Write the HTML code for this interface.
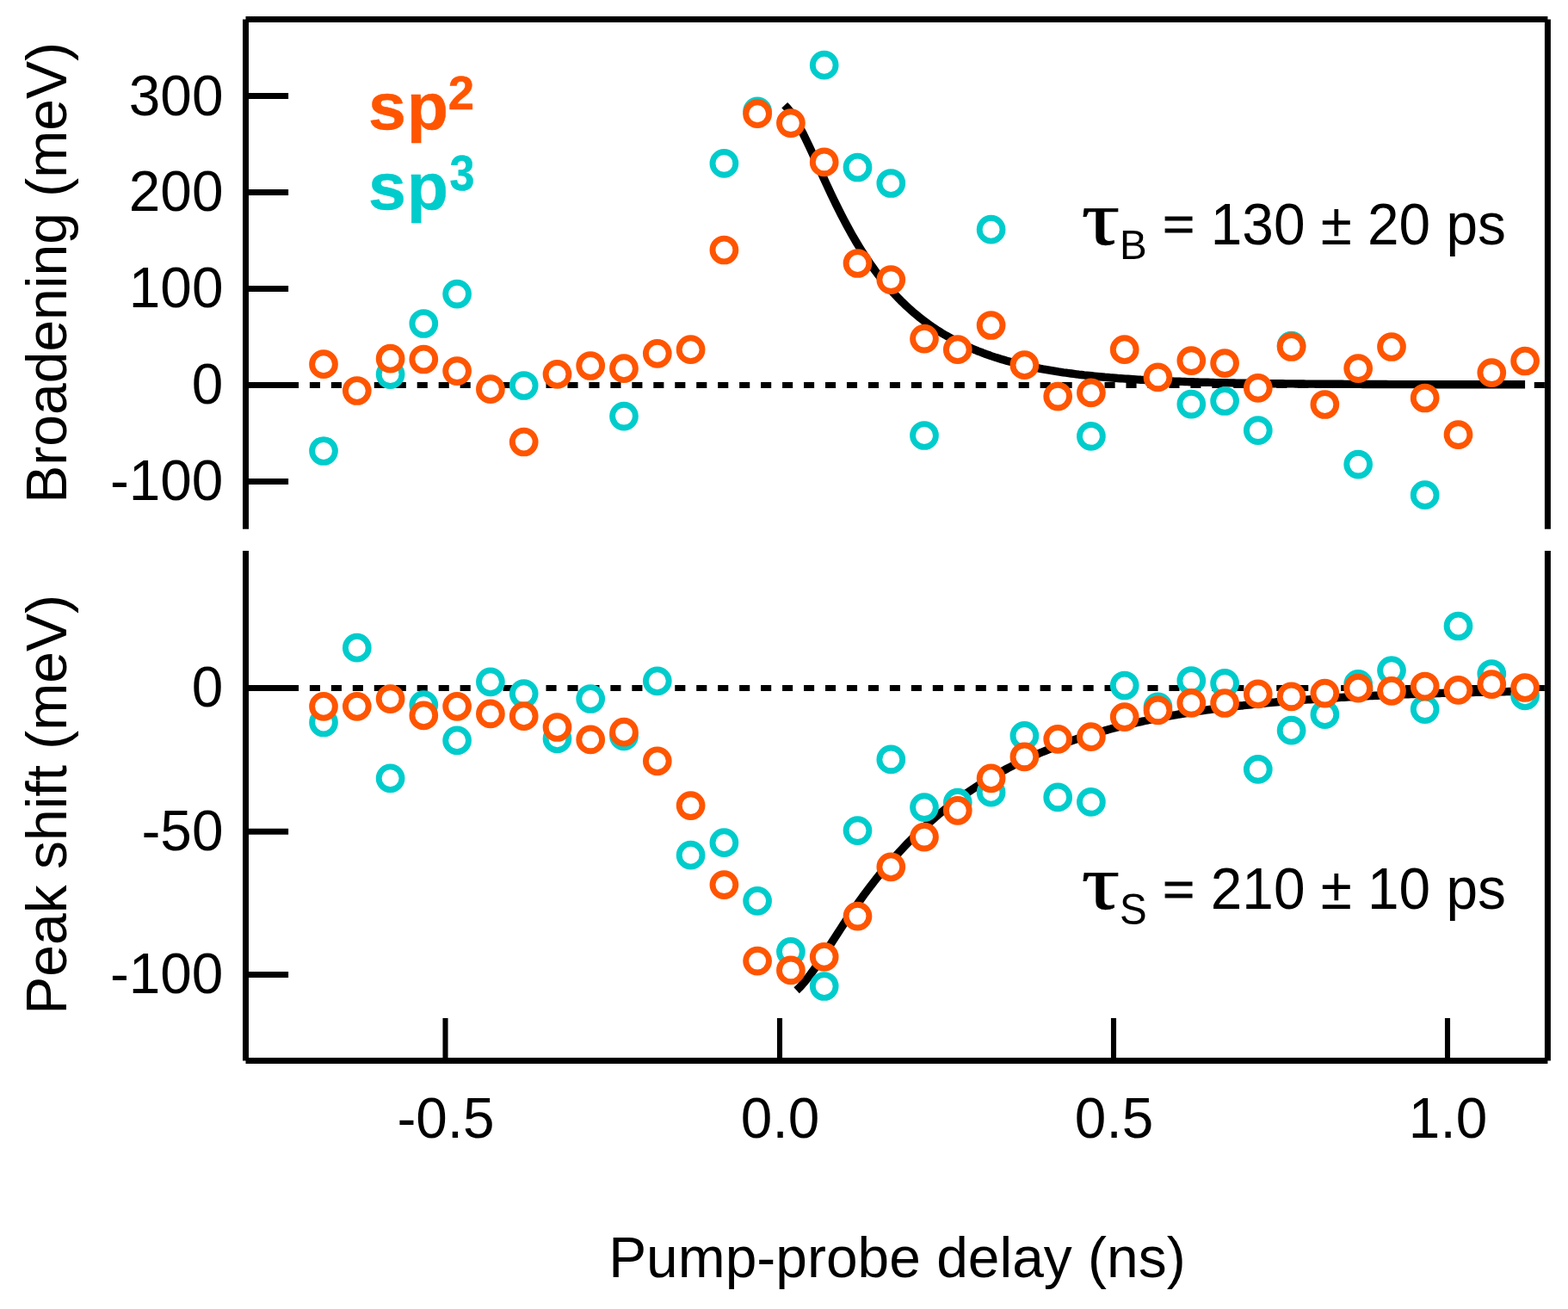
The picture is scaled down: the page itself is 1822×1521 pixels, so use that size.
<!DOCTYPE html>
<html lang="en">
<head>
<meta charset="utf-8">
<title>Pump-probe delay: broadening and peak shift</title>
<style>
html,body{margin:0;padding:0;background:#fff;}
body{width:1822px;height:1521px;overflow:hidden;}
svg{display:block;}
</style>
</head>
<body>
<svg width="1822" height="1521" viewBox="0 0 1822 1521" role="img" aria-label="Broadening and peak shift versus pump-probe delay">
<rect width="1822" height="1521" fill="#fff"/>
<g stroke="#000" stroke-width="7" stroke-dasharray="12.1 12.863" fill="none">
<line x1="285.0" y1="447.45" x2="1798.4" y2="447.45"/>
<line x1="285.0" y1="799.5" x2="1798.4" y2="799.5"/>
</g>
<g fill="none" stroke="#000" stroke-width="9.4" stroke-linejoin="round">
<path d="M911.7,122.2 L914.7,125.3 L917.7,129.0 L920.7,133.3 L923.7,138.0 L926.7,143.2 L929.7,148.7 L932.7,154.4 L935.7,160.5 L938.7,166.7 L941.7,173.1 L944.7,179.6 L947.7,186.2 L950.7,192.8 L953.7,199.4 L956.7,206.0 L959.7,212.6 L962.7,219.0 L965.7,225.4 L968.7,231.7 L971.7,237.9 L974.7,243.9 L977.7,249.9 L980.7,255.6 L983.7,261.3 L986.7,266.8 L989.7,272.2 L992.7,277.4 L995.7,282.5 L998.7,287.4 L1001.7,292.2 L1004.7,296.8 L1007.7,301.4 L1010.7,305.8 L1013.7,310.0 L1016.7,314.2 L1019.7,318.2 L1022.7,322.1 L1025.7,325.8 L1028.7,329.5 L1031.7,333.1 L1034.7,336.5 L1037.7,339.8 L1040.7,343.1 L1043.7,346.2 L1046.7,349.3 L1049.7,352.2 L1052.7,355.1 L1055.7,357.9 L1058.7,360.6 L1061.7,363.2 L1064.7,365.7 L1067.7,368.2 L1070.7,370.5 L1073.7,372.9 L1076.7,375.1 L1079.7,377.3 L1082.7,379.4 L1085.7,381.4 L1088.7,383.4 L1091.7,385.3 L1094.7,387.2 L1097.7,389.0 L1100.7,390.7 L1103.7,392.4 L1106.7,394.1 L1109.7,395.7 L1112.7,397.2 L1115.7,398.7 L1118.7,400.2 L1121.7,401.6 L1124.7,403.0 L1127.7,404.3 L1130.7,405.6 L1133.7,406.8 L1136.7,408.1 L1139.7,409.2 L1142.7,410.4 L1145.7,411.5 L1148.7,412.5 L1151.7,413.6 L1154.7,414.6 L1157.7,415.6 L1160.7,416.5 L1163.7,417.4 L1166.7,418.3 L1169.7,419.2 L1172.7,420.0 L1175.7,420.8 L1178.7,421.6 L1181.7,422.4 L1184.7,423.1 L1187.7,423.8 L1190.7,424.5 L1193.7,425.2 L1196.7,425.9 L1199.7,426.5 L1202.7,427.1 L1205.7,427.7 L1208.7,428.3 L1211.7,428.9 L1214.7,429.4 L1217.7,429.9 L1220.7,430.4 L1223.7,430.9 L1226.7,431.4 L1229.7,431.9 L1232.7,432.3 L1235.7,432.8 L1238.7,433.2 L1241.7,433.6 L1244.7,434.0 L1247.7,434.4 L1250.7,434.8 L1253.7,435.2 L1256.7,435.5 L1259.7,435.9 L1262.7,436.2 L1265.7,436.5 L1268.7,436.8 L1271.7,437.1 L1274.7,437.4 L1277.7,437.7 L1280.7,438.0 L1283.7,438.3 L1286.7,438.5 L1289.7,438.8 L1292.7,439.0 L1295.7,439.2 L1298.7,439.5 L1301.7,439.7 L1304.7,439.9 L1307.7,440.1 L1310.7,440.3 L1313.7,440.5 L1316.7,440.7 L1319.7,440.9 L1322.7,441.1 L1325.7,441.3 L1328.7,441.4 L1331.7,441.6 L1334.7,441.8 L1337.7,441.9 L1340.7,442.1 L1343.7,442.2 L1346.7,442.3 L1349.7,442.5 L1352.7,442.6 L1355.7,442.7 L1358.7,442.9 L1361.7,443.0 L1364.7,443.1 L1367.7,443.2 L1370.7,443.3 L1373.7,443.4 L1376.7,443.5 L1379.7,443.6 L1382.7,443.7 L1385.7,443.8 L1388.7,443.9 L1391.7,444.0 L1394.7,444.1 L1397.7,444.2 L1400.7,444.3 L1403.7,444.3 L1406.7,444.4 L1409.7,444.5 L1412.7,444.6 L1415.7,444.6 L1418.7,444.7 L1421.7,444.8 L1424.7,444.8 L1427.7,444.9 L1430.7,444.9 L1433.7,445.0 L1436.7,445.1 L1439.7,445.1 L1442.7,445.2 L1445.7,445.2 L1448.7,445.3 L1451.7,445.3 L1454.7,445.4 L1457.7,445.4 L1460.7,445.4 L1463.7,445.5 L1466.7,445.5 L1469.7,445.6 L1472.7,445.6 L1475.7,445.6 L1478.7,445.7 L1481.7,445.7 L1484.7,445.8 L1487.7,445.8 L1490.7,445.8 L1493.7,445.9 L1496.7,445.9 L1499.7,445.9 L1502.7,445.9 L1505.7,446.0 L1508.7,446.0 L1511.7,446.0 L1514.7,446.0 L1517.7,446.1 L1520.7,446.1 L1523.7,446.1 L1526.7,446.1 L1529.7,446.2 L1532.7,446.2 L1535.7,446.2 L1538.7,446.2 L1541.7,446.2 L1544.7,446.3 L1547.7,446.3 L1550.7,446.3 L1553.7,446.3 L1556.7,446.3 L1559.7,446.3 L1562.7,446.4 L1565.7,446.4 L1568.7,446.4 L1571.7,446.4 L1574.7,446.4 L1577.7,446.4 L1580.7,446.4 L1583.7,446.5 L1586.7,446.5 L1589.7,446.5 L1592.7,446.5 L1595.7,446.5 L1598.7,446.5 L1601.7,446.5 L1604.7,446.5 L1607.7,446.5 L1610.7,446.5 L1613.7,446.6 L1616.7,446.6 L1619.7,446.6 L1622.7,446.6 L1625.7,446.6 L1628.7,446.6 L1631.7,446.6 L1634.7,446.6 L1637.7,446.6 L1640.7,446.6 L1643.7,446.6 L1646.7,446.6 L1649.7,446.6 L1652.7,446.7 L1655.7,446.7 L1658.7,446.7 L1661.7,446.7 L1664.7,446.7 L1667.7,446.7 L1670.7,446.7 L1673.7,446.7 L1676.7,446.7 L1679.7,446.7 L1682.7,446.7 L1685.7,446.7 L1688.7,446.7 L1691.7,446.7 L1694.7,446.7 L1697.7,446.7 L1700.7,446.7 L1703.7,446.7 L1706.7,446.7 L1709.7,446.7 L1712.7,446.7 L1715.7,446.7 L1718.7,446.8 L1721.7,446.8 L1724.7,446.8 L1727.7,446.8 L1730.7,446.8 L1733.7,446.8 L1736.7,446.8 L1739.7,446.8 L1742.7,446.8 L1745.7,446.8 L1748.7,446.8 L1751.7,446.8 L1754.7,446.8 L1757.7,446.8 L1760.7,446.8 L1763.7,446.8 L1766.7,446.8 L1769.7,446.8 L1772.1,446.8"/>
<path d="M925.6,1150.7 L928.6,1147.9 L931.6,1144.8 L934.6,1141.3 L937.6,1137.6 L940.6,1133.7 L943.6,1129.6 L946.6,1125.4 L949.6,1121.0 L952.6,1116.5 L955.6,1111.9 L958.6,1107.3 L961.6,1102.7 L964.6,1098.0 L967.6,1093.4 L970.6,1088.7 L973.6,1084.1 L976.6,1079.5 L979.6,1074.9 L982.6,1070.4 L985.6,1065.9 L988.6,1061.5 L991.6,1057.2 L994.6,1052.9 L997.6,1048.6 L1000.6,1044.5 L1003.6,1040.3 L1006.6,1036.3 L1009.6,1032.3 L1012.6,1028.4 L1015.6,1024.5 L1018.6,1020.7 L1021.6,1017.0 L1024.6,1013.3 L1027.6,1009.7 L1030.6,1006.2 L1033.6,1002.7 L1036.6,999.2 L1039.6,995.9 L1042.6,992.6 L1045.6,989.3 L1048.6,986.1 L1051.6,982.9 L1054.6,979.8 L1057.6,976.8 L1060.6,973.8 L1063.6,970.9 L1066.6,968.0 L1069.6,965.1 L1072.6,962.3 L1075.6,959.6 L1078.6,956.9 L1081.6,954.2 L1084.6,951.6 L1087.6,949.0 L1090.6,946.5 L1093.6,944.0 L1096.6,941.6 L1099.6,939.2 L1102.6,936.9 L1105.6,934.5 L1108.6,932.3 L1111.6,930.0 L1114.6,927.8 L1117.6,925.7 L1120.6,923.5 L1123.6,921.4 L1126.6,919.4 L1129.6,917.4 L1132.6,915.4 L1135.6,913.4 L1138.6,911.5 L1141.6,909.6 L1144.6,907.8 L1147.6,905.9 L1150.6,904.1 L1153.6,902.4 L1156.6,900.7 L1159.6,899.0 L1162.6,897.3 L1165.6,895.6 L1168.6,894.0 L1171.6,892.4 L1174.6,890.9 L1177.6,889.3 L1180.6,887.8 L1183.6,886.3 L1186.6,884.9 L1189.6,883.4 L1192.6,882.0 L1195.6,880.6 L1198.6,879.3 L1201.6,877.9 L1204.6,876.6 L1207.6,875.3 L1210.6,874.0 L1213.6,872.8 L1216.6,871.6 L1219.6,870.4 L1222.6,869.2 L1225.6,868.0 L1228.6,866.8 L1231.6,865.7 L1234.6,864.6 L1237.6,863.5 L1240.6,862.4 L1243.6,861.4 L1246.6,860.3 L1249.6,859.3 L1252.6,858.3 L1255.6,857.3 L1258.6,856.4 L1261.6,855.4 L1264.6,854.5 L1267.6,853.6 L1270.6,852.7 L1273.6,851.8 L1276.6,850.9 L1279.6,850.0 L1282.6,849.2 L1285.6,848.4 L1288.6,847.5 L1291.6,846.7 L1294.6,846.0 L1297.6,845.2 L1300.6,844.4 L1303.6,843.7 L1306.6,842.9 L1309.6,842.2 L1312.6,841.5 L1315.6,840.8 L1318.6,840.1 L1321.6,839.4 L1324.6,838.8 L1327.6,838.1 L1330.6,837.5 L1333.6,836.8 L1336.6,836.2 L1339.6,835.6 L1342.6,835.0 L1345.6,834.4 L1348.6,833.8 L1351.6,833.3 L1354.6,832.7 L1357.6,832.2 L1360.6,831.6 L1363.6,831.1 L1366.6,830.6 L1369.6,830.0 L1372.6,829.5 L1375.6,829.0 L1378.6,828.5 L1381.6,828.1 L1384.6,827.6 L1387.6,827.1 L1390.6,826.7 L1393.6,826.2 L1396.6,825.8 L1399.6,825.4 L1402.6,824.9 L1405.6,824.5 L1408.6,824.1 L1411.6,823.7 L1414.6,823.3 L1417.6,822.9 L1420.6,822.5 L1423.6,822.1 L1426.6,821.8 L1429.6,821.4 L1432.6,821.0 L1435.6,820.7 L1438.6,820.3 L1441.6,820.0 L1444.6,819.7 L1447.6,819.3 L1450.6,819.0 L1453.6,818.7 L1456.6,818.4 L1459.6,818.1 L1462.6,817.8 L1465.6,817.5 L1468.6,817.2 L1471.6,816.9 L1474.6,816.6 L1477.6,816.3 L1480.6,816.1 L1483.6,815.8 L1486.6,815.5 L1489.6,815.3 L1492.6,815.0 L1495.6,814.8 L1498.6,814.5 L1501.6,814.3 L1504.6,814.0 L1507.6,813.8 L1510.6,813.6 L1513.6,813.3 L1516.6,813.1 L1519.6,812.9 L1522.6,812.7 L1525.6,812.5 L1528.6,812.3 L1531.6,812.1 L1534.6,811.9 L1537.6,811.7 L1540.6,811.5 L1543.6,811.3 L1546.6,811.1 L1549.6,810.9 L1552.6,810.7 L1555.6,810.5 L1558.6,810.4 L1561.6,810.2 L1564.6,810.0 L1567.6,809.9 L1570.6,809.7 L1573.6,809.5 L1576.6,809.4 L1579.6,809.2 L1582.6,809.1 L1585.6,808.9 L1588.6,808.8 L1591.6,808.6 L1594.6,808.5 L1597.6,808.3 L1600.6,808.2 L1603.6,808.1 L1606.6,807.9 L1609.6,807.8 L1612.6,807.7 L1615.6,807.5 L1618.6,807.4 L1621.6,807.3 L1624.6,807.2 L1627.6,807.1 L1630.6,806.9 L1633.6,806.8 L1636.6,806.7 L1639.6,806.6 L1642.6,806.5 L1645.6,806.4 L1648.6,806.3 L1651.6,806.2 L1654.6,806.1 L1657.6,806.0 L1660.6,805.9 L1663.6,805.8 L1666.6,805.7 L1669.6,805.6 L1672.6,805.5 L1675.6,805.4 L1678.6,805.3 L1681.6,805.2 L1684.6,805.2 L1687.6,805.1 L1690.6,805.0 L1693.6,804.9 L1696.6,804.8 L1699.6,804.8 L1702.6,804.7 L1705.6,804.6 L1708.6,804.5 L1711.6,804.5 L1714.6,804.4 L1717.6,804.3 L1720.6,804.2 L1723.6,804.2 L1726.6,804.1 L1729.6,804.0 L1732.6,804.0 L1735.6,803.9 L1738.6,803.8 L1741.6,803.8 L1744.6,803.7 L1747.6,803.7 L1750.6,803.6 L1753.6,803.5 L1756.6,803.5 L1759.6,803.4 L1762.6,803.4 L1765.6,803.3 L1768.6,803.3 L1771.6,803.2 L1772.1,803.2"/>
</g>
<g fill="#fff" stroke="#00CCCC" stroke-width="6.9">
<circle cx="376.0" cy="524.0" r="13.4"/>
<circle cx="453.6" cy="435.1" r="13.4"/>
<circle cx="492.3" cy="376.0" r="13.4"/>
<circle cx="531.1" cy="341.6" r="13.4"/>
<circle cx="608.7" cy="448.0" r="13.4"/>
<circle cx="725.0" cy="483.6" r="13.4"/>
<circle cx="841.4" cy="189.9" r="13.4"/>
<circle cx="880.1" cy="129.3" r="13.4"/>
<circle cx="957.7" cy="75.7" r="13.4"/>
<circle cx="996.5" cy="194.5" r="13.4"/>
<circle cx="1035.3" cy="213.0" r="13.4"/>
<circle cx="1074.0" cy="506.0" r="13.4"/>
<circle cx="1151.6" cy="266.7" r="13.4"/>
<circle cx="1267.9" cy="506.9" r="13.4"/>
<circle cx="1384.3" cy="469.6" r="13.4"/>
<circle cx="1423.1" cy="466.0" r="13.4"/>
<circle cx="1461.8" cy="500.1" r="13.4"/>
<circle cx="1500.6" cy="401.6" r="13.4"/>
<circle cx="1578.2" cy="539.6" r="13.4"/>
<circle cx="1655.7" cy="575.2" r="13.4"/>
</g>
<g fill="#fff" stroke="#FF5500" stroke-width="6.9">
<circle cx="376.0" cy="423.2" r="13.4"/>
<circle cx="414.8" cy="454.0" r="13.4"/>
<circle cx="453.6" cy="416.7" r="13.4"/>
<circle cx="492.3" cy="417.5" r="13.4"/>
<circle cx="531.1" cy="431.1" r="13.4"/>
<circle cx="569.9" cy="452.2" r="13.4"/>
<circle cx="608.7" cy="513.5" r="13.4"/>
<circle cx="647.5" cy="434.8" r="13.4"/>
<circle cx="686.2" cy="425.0" r="13.4"/>
<circle cx="725.0" cy="428.2" r="13.4"/>
<circle cx="763.8" cy="410.8" r="13.4"/>
<circle cx="802.6" cy="406.2" r="13.4"/>
<circle cx="841.4" cy="290.5" r="13.4"/>
<circle cx="880.1" cy="132.2" r="13.4"/>
<circle cx="918.9" cy="143.1" r="13.4"/>
<circle cx="957.7" cy="188.4" r="13.4"/>
<circle cx="996.5" cy="306.0" r="13.4"/>
<circle cx="1035.3" cy="325.1" r="13.4"/>
<circle cx="1074.0" cy="393.6" r="13.4"/>
<circle cx="1112.8" cy="406.2" r="13.4"/>
<circle cx="1151.6" cy="378.0" r="13.4"/>
<circle cx="1190.4" cy="424.2" r="13.4"/>
<circle cx="1229.2" cy="460.6" r="13.4"/>
<circle cx="1267.9" cy="456.4" r="13.4"/>
<circle cx="1306.7" cy="406.2" r="13.4"/>
<circle cx="1345.5" cy="438.4" r="13.4"/>
<circle cx="1384.3" cy="419.1" r="13.4"/>
<circle cx="1423.1" cy="422.1" r="13.4"/>
<circle cx="1461.8" cy="450.9" r="13.4"/>
<circle cx="1500.6" cy="403.0" r="13.4"/>
<circle cx="1539.4" cy="470.0" r="13.4"/>
<circle cx="1578.2" cy="428.1" r="13.4"/>
<circle cx="1617.0" cy="403.0" r="13.4"/>
<circle cx="1655.7" cy="462.5" r="13.4"/>
<circle cx="1694.5" cy="505.1" r="13.4"/>
<circle cx="1733.3" cy="433.1" r="13.4"/>
<circle cx="1772.1" cy="419.5" r="13.4"/>
</g>
<g fill="#fff" stroke="#00CCCC" stroke-width="6.9">
<circle cx="376.0" cy="839.5" r="13.4"/>
<circle cx="414.8" cy="752.7" r="13.4"/>
<circle cx="453.6" cy="904.3" r="13.4"/>
<circle cx="492.3" cy="819.1" r="13.4"/>
<circle cx="531.1" cy="860.3" r="13.4"/>
<circle cx="569.9" cy="792.3" r="13.4"/>
<circle cx="608.7" cy="806.1" r="13.4"/>
<circle cx="647.5" cy="858.3" r="13.4"/>
<circle cx="686.2" cy="812.0" r="13.4"/>
<circle cx="725.0" cy="855.3" r="13.4"/>
<circle cx="763.8" cy="791.3" r="13.4"/>
<circle cx="802.6" cy="993.7" r="13.4"/>
<circle cx="841.4" cy="979.2" r="13.4"/>
<circle cx="880.1" cy="1046.8" r="13.4"/>
<circle cx="918.9" cy="1105.8" r="13.4"/>
<circle cx="957.7" cy="1146.0" r="13.4"/>
<circle cx="996.5" cy="965.1" r="13.4"/>
<circle cx="1035.3" cy="882.4" r="13.4"/>
<circle cx="1074.0" cy="938.1" r="13.4"/>
<circle cx="1112.8" cy="932.6" r="13.4"/>
<circle cx="1151.6" cy="920.7" r="13.4"/>
<circle cx="1190.4" cy="854.9" r="13.4"/>
<circle cx="1229.2" cy="926.4" r="13.4"/>
<circle cx="1267.9" cy="931.9" r="13.4"/>
<circle cx="1306.7" cy="796.5" r="13.4"/>
<circle cx="1345.5" cy="821.3" r="13.4"/>
<circle cx="1384.3" cy="791.0" r="13.4"/>
<circle cx="1423.1" cy="793.9" r="13.4"/>
<circle cx="1461.8" cy="893.9" r="13.4"/>
<circle cx="1500.6" cy="848.7" r="13.4"/>
<circle cx="1539.4" cy="830.2" r="13.4"/>
<circle cx="1578.2" cy="794.9" r="13.4"/>
<circle cx="1617.0" cy="779.1" r="13.4"/>
<circle cx="1655.7" cy="824.1" r="13.4"/>
<circle cx="1694.5" cy="727.5" r="13.4"/>
<circle cx="1733.3" cy="783.0" r="13.4"/>
<circle cx="1772.1" cy="808.3" r="13.4"/>
</g>
<g fill="#fff" stroke="#FF5500" stroke-width="6.9">
<circle cx="376.0" cy="820.8" r="13.4"/>
<circle cx="414.8" cy="820.8" r="13.4"/>
<circle cx="453.6" cy="812.1" r="13.4"/>
<circle cx="492.3" cy="831.3" r="13.4"/>
<circle cx="531.1" cy="820.8" r="13.4"/>
<circle cx="569.9" cy="829.4" r="13.4"/>
<circle cx="608.7" cy="832.2" r="13.4"/>
<circle cx="647.5" cy="845.0" r="13.4"/>
<circle cx="686.2" cy="859.4" r="13.4"/>
<circle cx="725.0" cy="850.7" r="13.4"/>
<circle cx="763.8" cy="884.3" r="13.4"/>
<circle cx="802.6" cy="936.1" r="13.4"/>
<circle cx="841.4" cy="1028.1" r="13.4"/>
<circle cx="880.1" cy="1116.6" r="13.4"/>
<circle cx="918.9" cy="1127.4" r="13.4"/>
<circle cx="957.7" cy="1111.8" r="13.4"/>
<circle cx="996.5" cy="1064.6" r="13.4"/>
<circle cx="1035.3" cy="1007.3" r="13.4"/>
<circle cx="1074.0" cy="972.6" r="13.4"/>
<circle cx="1112.8" cy="941.8" r="13.4"/>
<circle cx="1151.6" cy="904.3" r="13.4"/>
<circle cx="1190.4" cy="879.4" r="13.4"/>
<circle cx="1229.2" cy="858.8" r="13.4"/>
<circle cx="1267.9" cy="856.2" r="13.4"/>
<circle cx="1306.7" cy="833.1" r="13.4"/>
<circle cx="1345.5" cy="825.4" r="13.4"/>
<circle cx="1384.3" cy="816.9" r="13.4"/>
<circle cx="1423.1" cy="817.0" r="13.4"/>
<circle cx="1461.8" cy="806.3" r="13.4"/>
<circle cx="1500.6" cy="809.4" r="13.4"/>
<circle cx="1539.4" cy="805.6" r="13.4"/>
<circle cx="1578.2" cy="799.7" r="13.4"/>
<circle cx="1617.0" cy="802.8" r="13.4"/>
<circle cx="1655.7" cy="797.5" r="13.4"/>
<circle cx="1694.5" cy="801.9" r="13.4"/>
<circle cx="1733.3" cy="795.1" r="13.4"/>
<circle cx="1772.1" cy="799.0" r="13.4"/>
</g>
<g stroke="#000" fill="none" stroke-width="7.0">
<path d="M285.5,614.7 V22.5"/>
<path d="M285.5,22.5 H1798.4"/>
<path d="M1798.4,22.5 V614.7"/>
<path d="M285.5,639.9 V1232.5"/>
<path d="M285.5,1232.5 H1798.4"/>
<path d="M1798.4,639.9 V1232.5"/>
<path d="M285.5,111.6 H335.1"/>
<path d="M285.5,223.55 H335.1"/>
<path d="M285.5,335.5 H335.1"/>
<path d="M285.5,447.45 H346.9"/>
<path d="M285.5,559.4 H335.1"/>
<path d="M285.5,799.5 H346.9"/>
<path d="M285.5,966.3 H335.1"/>
<path d="M285.5,1132.5 H335.1"/>
</g>
<g stroke="#000" fill="none" stroke-width="6.1">
<path d="M517.5,1232.5 V1183"/>
<path d="M906.0,1232.5 V1183"/>
<path d="M1294.0,1232.5 V1183"/>
<path d="M1682.0,1232.5 V1183"/>
</g>
<g font-family="'Liberation Sans', Arial, Helvetica, sans-serif" font-size="66" fill="#000">
<text transform="translate(259.4,133.5) scale(0.995,1.023)" text-anchor="end">300</text>
<text transform="translate(259.4,245.45) scale(0.995,1.023)" text-anchor="end">200</text>
<text transform="translate(259.4,357.4) scale(0.995,1.023)" text-anchor="end">100</text>
<text transform="translate(259.4,469.35) scale(0.995,1.023)" text-anchor="end">0</text>
<text transform="translate(259.4,581.3) scale(0.995,1.023)" text-anchor="end">-100</text>
<text transform="translate(259.4,821.4) scale(0.995,1.023)" text-anchor="end">0</text>
<text transform="translate(259.4,988.2) scale(0.995,1.023)" text-anchor="end">-50</text>
<text transform="translate(259.4,1154.4) scale(0.995,1.023)" text-anchor="end">-100</text>
<text transform="translate(518.0,1321.9) scale(0.995,1.023)" text-anchor="middle">-0.5</text>
<text transform="translate(906.5,1321.9) scale(0.995,1.023)" text-anchor="middle">0.0</text>
<text transform="translate(1294.5,1321.9) scale(0.995,1.023)" text-anchor="middle">0.5</text>
<text transform="translate(1682.5,1321.9) scale(0.995,1.023)" text-anchor="middle">1.0</text>
<text transform="translate(1042.4,1483.6) scale(0.999,1.01)" text-anchor="middle">Pump-probe delay (ns)</text>
<text transform="translate(77.3,316.9) rotate(-90) scale(1.0,1.02)" text-anchor="middle">Broadening (meV)</text>
<text transform="translate(77.3,934.9) rotate(-90) scale(1.0,1.02)" text-anchor="middle">Peak shift (meV)</text>
<text transform="translate(1256.6,283.60) scale(1.22,1)" font-family="'Liberation Serif', 'Times New Roman', 'DejaVu Serif', serif" font-size="91.5" stroke="#000" stroke-width="0.7">τ</text>
<text transform="translate(1301.0,301.2)" font-size="47.5">B</text>
<text transform="translate(1351.1,279.4) scale(0.965,0.855)" stroke="#000" stroke-width="1">=</text>
<text transform="translate(1406.7723999999998,284.0) scale(0.996,1.03)">130 ± 20 ps</text>
<text transform="translate(1256.6,1056.00) scale(1.22,1)" font-family="'Liberation Serif', 'Times New Roman', 'DejaVu Serif', serif" font-size="91.5" stroke="#000" stroke-width="0.7">τ</text>
<text transform="translate(1301.0,1074.3) scale(1.0,1.04)" font-size="47.5">S</text>
<text transform="translate(1351.1,1051.8) scale(0.965,0.855)" stroke="#000" stroke-width="1">=</text>
<text transform="translate(1406.7723999999998,1056.4) scale(0.996,1.03)">210 ± 10 ps</text>
</g>
<g font-family="'Liberation Sans', Arial, Helvetica, sans-serif" font-weight="bold" font-size="79" stroke-width="0.5" stroke-linejoin="round">
<text transform="translate(428,150.3) scale(1,0.972)" fill="#FF5500" stroke="#FF5500">s<tspan dx="0.9">p</tspan></text>
<text transform="translate(520.8,126.6) scale(1,1.035)" font-size="54.5" fill="#FF5500" stroke="#FF5500">2</text>
<text transform="translate(428,243.1) scale(1,0.972)" fill="#00CCCC" stroke="#00CCCC">s<tspan dx="0.9">p</tspan></text>
<text transform="translate(522.5,220.6) scale(0.955,1.06)" font-size="54.5" fill="#00CCCC" stroke="#00CCCC">3</text>
</g>
</svg>
</body>
</html>
